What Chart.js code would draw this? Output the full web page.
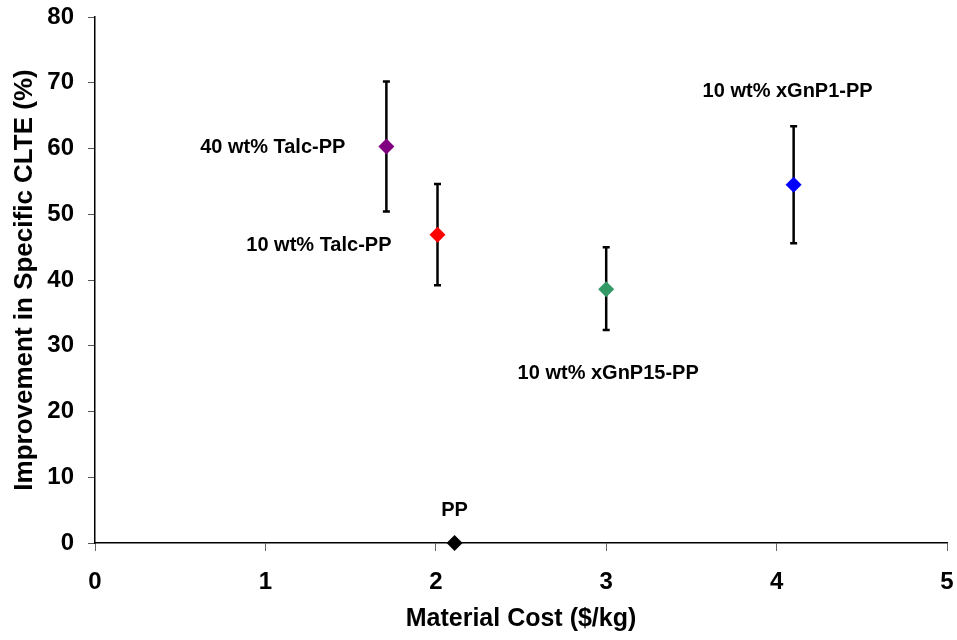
<!DOCTYPE html>
<html>
<head>
<meta charset="utf-8">
<script src="https://cdn.jsdelivr.net/npm/chart.js@4"></script>
<style>
  html, body { margin: 0; padding: 0; background: #fff; }
  #wrap { width: 957px; height: 640px; }
</style>
</head>
<body>
<div id="wrap"><canvas id="costChart"></canvas></div>
<script>
// data
const materials = ['PP', '40 wt% Talc-PP', '10 wt% Talc-PP', '10 wt% xGnP15-PP', '10 wt% xGnP1-PP'];
const costs = [2.11, 1.71, 2.01, 3.0, 4.1];
const improvement = [0, 60.3, 46.9, 38.6, 54.5];
const errLow = [0, 50.4, 39.2, 32.4, 45.6];
const errHigh = [0, 70.2, 54.6, 45.0, 63.4];
const pointColors = ['#000000', '#800080', '#FF0000', '#339966', '#0000FF'];

// label placement relative to each point (dx, dy, align)
const labelPos = [
    { dx: 0, dy: -33, align: 'center' },
    { dx: -41, dy: 1, align: 'right' },
    { dx: -46, dy: 11, align: 'right' },
    { dx: 2, dy: 84, align: 'center' },
    { dx: -6, dy: -93, align: 'center' }
];

const FONT = "'Liberation Sans', Arial, sans-serif";

const errorBars = {
    id: 'errorBars',
    beforeDatasetsDraw(chart) {
        const { ctx, scales: { x, y } } = chart;
        ctx.save();
        ctx.strokeStyle = '#000';
        ctx.lineWidth = 2.5;
        costs.forEach((c, i) => {
            if (errHigh[i] === errLow[i]) return;
            const px = x.getPixelForValue(c);
            const top = y.getPixelForValue(errHigh[i]);
            const bot = y.getPixelForValue(errLow[i]);
            ctx.beginPath();
            ctx.moveTo(px, top);
            ctx.lineTo(px, bot);
            ctx.moveTo(px - 3.5, top);
            ctx.lineTo(px + 3.5, top);
            ctx.moveTo(px - 3.5, bot);
            ctx.lineTo(px + 3.5, bot);
            ctx.stroke();
        });
        ctx.restore();
    }
};

const pointLabels = {
    id: 'pointLabels',
    afterDatasetsDraw(chart) {
        const { ctx, scales: { x, y } } = chart;
        ctx.save();
        ctx.fillStyle = '#000';
        ctx.font = 'bold 20px ' + FONT;
        ctx.textBaseline = 'middle';
        materials.forEach((m, i) => {
            const p = labelPos[i];
            ctx.textAlign = p.align;
            ctx.fillText(m, x.getPixelForValue(costs[i]) + p.dx, y.getPixelForValue(improvement[i]) + p.dy);
        });
        ctx.restore();
    }
};

// keep the plot box fixed: drop the extra room chart.js keeps for edge labels
function noEdgePadding(scale) {
    scale.paddingTop = 0;
    scale.paddingBottom = 0;
    scale.paddingLeft = 0;
    scale.paddingRight = 0;
}

const ctx = document.getElementById('costChart').getContext('2d');

new Chart(ctx, {
    type: 'scatter',
    data: {
        datasets: [{
            label: 'Materials',
            data: costs.map((c, i) => ({ x: c, y: improvement[i] })),
            pointStyle: 'rectRot',
            pointRadius: 8,
            pointHoverRadius: 8,
            pointBackgroundColor: pointColors,
            pointBorderColor: pointColors,
            pointBorderWidth: 0,
            clip: false
        }]
    },
    options: {
        responsive: true,
        maintainAspectRatio: false,
        animation: false,
        layout: {
            padding: { top: 17, right: 10, left: 0, bottom: 0 }
        },
        plugins: {
            legend: { display: false },
            tooltip: { enabled: false }
        },
        scales: {
            x: {
                type: 'linear',
                min: 0,
                max: 5,
                ticks: {
                    stepSize: 1,
                    color: '#000',
                    padding: 17,
                    font: { family: FONT, size: 24, weight: 'bold' }
                },
                grid: {
                    drawOnChartArea: false,
                    tickLength: 8,
                    color: '#666'
                },
                border: { color: '#000', width: 1.5 },
                title: {
                    display: true,
                    text: 'Material Cost ($/kg)',
                    color: '#000',
                    padding: { top: 0, bottom: 6 },
                    font: { family: FONT, size: 25, weight: 'bold' }
                },
                afterFit(scale) {
                    scale.height = 97;
                    noEdgePadding(scale);
                }
            },
            y: {
                min: 0,
                max: 80,
                ticks: {
                    stepSize: 10,
                    color: '#000',
                    padding: 14,
                    font: { family: FONT, size: 24, weight: 'bold' }
                },
                grid: {
                    drawOnChartArea: false,
                    tickLength: 7,
                    color: '#555'
                },
                border: { color: '#000', width: 1.5 },
                title: {
                    display: true,
                    text: 'Improvement in Specific CLTE (%)',
                    color: '#000',
                    padding: { top: 9, bottom: 0 },
                    font: { family: FONT, size: 26, weight: 'bold' }
                },
                afterFit(scale) {
                    scale.width = 95;
                    noEdgePadding(scale);
                }
            }
        }
    },
    plugins: [errorBars, pointLabels]
});
</script>
</body>
</html>
